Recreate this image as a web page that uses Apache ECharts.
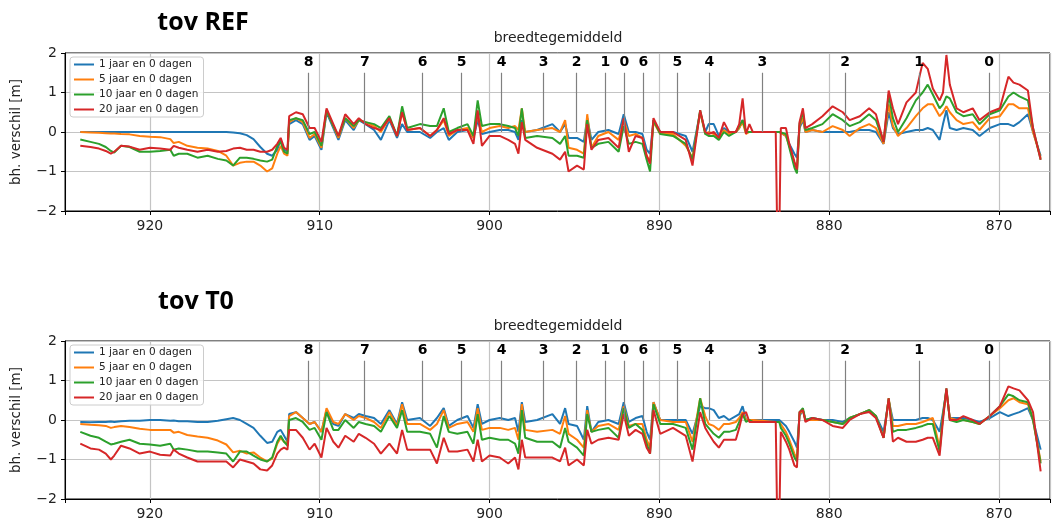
<!DOCTYPE html>
<html>
<head>
<meta charset="utf-8">
<title>breedtegemiddeld</title>
<script src="https://cdn.jsdelivr.net/npm/echarts@6/dist/echarts.min.js"></script>
<style>body{margin:0;background:#fff}</style>
</head>
<body>
<div id="main" style="width:1053px;height:525px"></div>
<script type="text/javascript">
// rivierkilometer (x), shared by every series
var km = [
    924.1, 923.5, 923.0, 922.6, 922.3, 922.1, 921.7, 921.2, 920.6, 920.0,
    919.4, 918.8, 918.6, 918.3, 917.8, 917.2, 916.6, 916.0, 915.5, 915.1,
    914.7, 914.3, 913.9, 913.5, 913.1, 912.8, 912.5, 912.3, 912.1, 911.9,
    911.8, 911.4, 911.0, 910.6, 910.3, 909.9, 909.6, 909.2, 908.9, 908.5,
    908.0, 907.7, 907.3, 906.8, 906.4, 905.9, 905.45, 905.15, 904.85, 904.1,
    903.5, 903.1, 902.7, 902.4, 901.9, 901.3, 900.95, 900.7, 900.45, 900.0,
    899.4, 898.9, 898.5, 898.3, 898.1, 897.9, 897.2, 896.3, 895.85, 895.55,
    895.35, 894.85, 894.45, 894.25, 894.0, 893.6, 893.0, 892.4, 892.1, 891.8,
    891.4, 891.0, 890.75, 890.55, 890.35, 889.95, 889.2, 888.45, 888.05, 887.6,
    887.3, 887.1, 886.8, 886.5, 886.2, 885.9, 885.5, 885.3, 885.1, 884.9,
    884.7, 884.5, 883.15, 883.06, 882.94, 882.85, 882.55, 882.35, 882.05, 881.9,
    881.75, 881.55, 881.4, 881.0, 880.4, 879.8, 879.2, 878.8, 878.2, 877.65,
    877.25, 876.8, 876.5, 876.25, 875.95, 875.45, 874.9, 874.5, 874.2, 873.9,
    873.5, 873.3, 873.1, 872.9, 872.5, 872.1, 871.55, 871.15, 870.55, 869.95,
    869.45, 869.15, 868.8, 868.3, 868.0, 867.55
];

var seriesNames = ['1 jaar en 0 dagen', '5 jaar en 0 dagen', '10 jaar en 0 dagen', '20 jaar en 0 dagen'];
var colors = ['#1f77b4', '#ff7f0e', '#2ca02c', '#d62728'];

// tov REF
var ref1 = [
    0, 0, 0, 0, 0, 0, 0, 0, 0, 0,
    0, 0, 0, 0, 0, 0, 0, 0, 0, -0.01,
    -0.03, -0.08, -0.18, -0.38, -0.55, -0.6, -0.45, -0.2, -0.45, -0.5,
    0.2, 0.3, 0.2, -0.2, -0.1, -0.45, 0.5, 0.1, -0.2, 0.3,
    0.05, 0.3, 0.2, 0.05, -0.2, 0.3, -0.15, 0.2, 0.0, 0.0,
    -0.15, 0.0, 0.1, -0.2, 0.0, 0.05, -0.15, 0.3, -0.05, 0.0,
    0.05, 0.05, 0.0, -0.2, 0.3, 0.0, 0.05, 0.2, 0.0, 0.2,
    -0.15, -0.15, -0.25, 0.35, -0.2, 0.0, 0.05, -0.05, 0.45, 0.0,
    0.0, -0.05, -0.45, -0.55, 0.3, 0.0, 0.0, -0.1, -0.5, 0.5,
    0.0, 0.2, 0.2, -0.1, 0.1, 0.0, 0.0, 0.1, 0.3, 0.0,
    0.0, 0.0, 0.0, 0.0, 0.0, 0.0, -0.1, -0.3, -0.55, -0.65,
    0.1, 0.3, 0.0, 0.05, 0.0, 0.0, 0.0, 0.0, 0.05, 0.05,
    0.0, -0.3, 0.5, 0.1, -0.05, 0.0, 0.05, 0.05, 0.1, 0.05,
    -0.2, 0.2, 0.55, 0.1, 0.05, 0.1, 0.05, -0.1, 0.1, 0.2,
    0.2, 0.15, 0.25, 0.45, 0.0, -0.6
];
var ref5 = [
    0.0, -0.01, -0.02, -0.03, -0.04, -0.04, -0.05, -0.06, -0.1, -0.12,
    -0.13, -0.18, -0.28, -0.25, -0.35, -0.4, -0.42, -0.48, -0.6, -0.85,
    -0.78, -0.75, -0.75, -0.85, -1.0, -0.92, -0.55, -0.35, -0.55, -0.6,
    0.25, 0.35, 0.25, -0.15, -0.05, -0.4, 0.55, 0.15, -0.15, 0.35,
    0.1, 0.3, 0.25, 0.15, 0.0, 0.35, -0.1, 0.5, 0.05, 0.1,
    -0.1, 0.05, 0.3, -0.1, 0.05, 0.1, -0.15, 0.45, 0.0, 0.1,
    0.15, 0.1, 0.15, 0.05, 0.6, 0.0, 0.05, 0.1, 0.0, 0.3,
    -0.4, -0.45, -0.55, 0.45, -0.4, -0.1, 0.0, -0.2, 0.3, -0.1,
    -0.05, -0.15, -0.6, -0.75, 0.25, -0.05, -0.05, -0.35, -0.65, 0.5,
    -0.05, 0.0, -0.05, -0.15, 0.05, -0.05, 0.0, 0.1, 0.25, -0.05,
    0.0, 0.0, 0.0, 0.0, 0.0, 0.0, -0.1, -0.35, -0.8, -1.0,
    0.15, 0.35, 0.0, 0.05, 0.0, 0.15, 0.05, -0.1, 0.1, 0.2,
    0.1, -0.3, 0.7, 0.15, -0.1, 0.1, 0.4, 0.6, 0.7, 0.7,
    0.4, 0.5, 0.65, 0.5, 0.3, 0.2, 0.25, 0.05, 0.35, 0.4,
    0.7, 0.7, 0.6, 0.6, 0.0, -0.65
];
var ref10 = [
    -0.19, -0.25, -0.3, -0.38, -0.48, -0.52, -0.35, -0.38, -0.5, -0.5,
    -0.48, -0.45, -0.6, -0.55, -0.55, -0.65, -0.6, -0.68, -0.72, -0.85,
    -0.65, -0.65, -0.68, -0.72, -0.75, -0.7, -0.35, -0.25, -0.5, -0.55,
    0.3, 0.35, 0.3, -0.05, 0.0, -0.35, 0.55, 0.15, -0.1, 0.35,
    0.15, 0.3, 0.25, 0.2, 0.1, 0.4, -0.1, 0.65, 0.1, 0.2,
    0.15, 0.15, 0.6, 0.0, 0.1, 0.2, -0.1, 0.8, 0.15, 0.2,
    0.2, 0.15, 0.1, -0.1, 0.6, -0.15, -0.1, -0.15, -0.3, -0.1,
    -0.6, -0.6, -0.65, 0.3, -0.4, -0.3, -0.25, -0.5, 0.15, -0.3,
    -0.25, -0.3, -0.7, -1.0, 0.3, -0.05, -0.1, -0.3, -0.7, 0.55,
    -0.05, -0.1, -0.1, -0.2, 0.0, -0.1, 0.0, 0.15, 0.3, 0.0,
    0.0, 0.0, 0.0, 0.0, 0.0, 0.05, -0.05, -0.4, -0.9, -1.05,
    0.2, 0.5, 0.05, 0.1, 0.2, 0.45, 0.3, 0.15, 0.25, 0.45,
    0.3, -0.25, 0.95, 0.35, 0.0, 0.35, 0.8, 1.0, 1.2, 0.95,
    0.6, 0.7, 0.9, 0.85, 0.5, 0.4, 0.45, 0.2, 0.45, 0.55,
    0.9, 1.0, 0.9, 0.8, 0.1, -0.7
];
var ref20 = [
    -0.35, -0.38, -0.42, -0.48, -0.55, -0.5, -0.35, -0.37, -0.45, -0.4,
    -0.42, -0.45, -0.35, -0.4, -0.45, -0.5, -0.45, -0.5, -0.48, -0.42,
    -0.4, -0.45, -0.45, -0.5, -0.5, -0.45, -0.3, -0.15, -0.4, -0.45,
    0.4, 0.5, 0.45, 0.1, 0.1, -0.25, 0.6, 0.2, -0.1, 0.45,
    0.2, 0.35, 0.2, 0.1, 0.05, 0.35, -0.1, 0.5, 0.05, 0.1,
    -0.1, 0.05, 0.35, -0.05, 0.05, 0.05, -0.3, 0.55, -0.35, -0.1,
    -0.1, -0.2, -0.3, -0.55, 0.25, -0.2, -0.4, -0.55, -0.7, -0.5,
    -1.0, -0.85, -0.95, 0.2, -0.45, -0.2, -0.15, -0.4, 0.35, -0.5,
    -0.1, -0.15, -0.6, -0.8, 0.35, 0.0, 0.0, -0.2, -0.85, 0.55,
    0.0, -0.05, 0.0, -0.15, 0.25, 0.0, 0.0, 0.2, 0.85, -0.05,
    0.2, 0.0, 0.0, -2.6, -2.6, 0.1, 0.1, -0.3, -0.75, -0.95,
    0.25, 0.6, 0.1, 0.2, 0.4, 0.65, 0.5, 0.3, 0.4, 0.6,
    0.45, -0.25, 1.05, 0.6, 0.2, 0.75, 1.0, 1.75, 1.6, 1.1,
    0.8, 1.0, 1.95, 1.2, 0.6, 0.5, 0.6, 0.3, 0.5, 0.6,
    1.4, 1.25, 1.2, 1.05, 0.1, -0.7
];

// tov T0
var t01 = [
    -0.05, -0.06, -0.05, -0.05, -0.04, -0.05, -0.03, -0.02, -0.02, 0.0,
    0.0, -0.02, -0.01, -0.03, -0.03, -0.05, -0.05, -0.02, 0.02, 0.05,
    0.0, -0.1, -0.2, -0.4, -0.58, -0.55, -0.3, -0.25, -0.4, -0.55,
    0.15, 0.2, 0.05, -0.1, -0.05, -0.3, 0.25, -0.1, -0.15, 0.15,
    0.05, 0.15, 0.1, 0.05, -0.1, 0.25, -0.1, 0.45, 0.0, 0.05,
    -0.15, 0.05, 0.3, -0.15, 0.0, 0.1, -0.2, 0.4, -0.1, 0.0,
    0.05, 0.0, 0.05, -0.3, 0.45, -0.05, 0.0, 0.15, -0.1, 0.3,
    -0.1, -0.15, -0.5, 0.35, -0.3, -0.05, 0.0, -0.1, 0.45, -0.05,
    0.05, 0.1, -0.3, -0.5, 0.45, 0.0, 0.0, 0.0, -0.35, 0.35,
    0.3, 0.3, 0.25, 0.05, 0.1, 0.0, 0.1, 0.15, 0.35, 0.0,
    0.0, 0.0, 0.0, 0.0, 0.0, -0.05, -0.15, -0.3, -0.55, -0.7,
    0.1, 0.25, 0.0, 0.05, 0.0, 0.0, -0.05, 0.05, 0.15, 0.25,
    0.1, -0.3, 0.5, 0.0, 0.0, 0.0, 0.0, 0.05, 0.05, 0.0,
    -0.3, 0.2, 0.75, 0.05, 0.05, 0.05, 0.0, -0.05, 0.05, 0.2,
    0.1, 0.15, 0.2, 0.3, 0.0, -0.75
];
var t05 = [
    -0.1, -0.12, -0.13, -0.15, -0.2, -0.18, -0.15, -0.18, -0.22, -0.25,
    -0.25, -0.25, -0.32, -0.3, -0.38, -0.42, -0.45, -0.52, -0.62, -0.82,
    -0.78, -0.85, -0.82, -0.95, -1.05, -0.98, -0.6, -0.45, -0.55, -0.6,
    0.1, 0.2, 0.05, -0.1, -0.05, -0.3, 0.3, -0.05, -0.1, 0.15,
    0.0, 0.1, 0.05, -0.05, -0.2, 0.2, -0.15, 0.4, -0.1, -0.1,
    -0.25, -0.1, 0.25, -0.2, -0.1, -0.05, -0.3, 0.3, -0.25, -0.2,
    -0.2, -0.25, -0.2, -0.5, 0.4, -0.25, -0.3, -0.25, -0.35, 0.1,
    -0.35, -0.5, -0.7, 0.25, -0.3, -0.15, -0.1, -0.25, 0.35, -0.15,
    -0.1, -0.1, -0.5, -0.7, 0.45, 0.0, -0.05, -0.05, -0.55, 0.55,
    0.1, -0.1, -0.15, -0.25, -0.1, -0.1, -0.05, 0.05, 0.2, 0.0,
    0.0, 0.0, -0.05, -0.05, -0.05, -0.1, -0.3, -0.5, -0.85, -1.0,
    0.15, 0.25, 0.0, 0.0, 0.0, -0.05, -0.1, 0.05, 0.15, 0.25,
    0.1, -0.45, 0.55, -0.15, -0.15, -0.1, -0.1, -0.05, 0.0, 0.05,
    -0.7, 0.1, 0.75, 0.05, 0.0, 0.0, -0.05, -0.1, 0.1, 0.3,
    0.5, 0.55, 0.45, 0.4, 0.0, -1.05
];
var t010 = [
    -0.3, -0.4, -0.45, -0.55, -0.62, -0.6, -0.55, -0.5, -0.6, -0.62,
    -0.65, -0.6, -0.75, -0.72, -0.75, -0.8, -0.8, -0.82, -0.85, -1.05,
    -0.8, -0.8, -0.9, -1.0, -1.05, -0.95, -0.55, -0.4, -0.55, -0.65,
    0.0, 0.05, -0.05, -0.25, -0.2, -0.5, 0.2, -0.25, -0.25, 0.0,
    -0.2, -0.05, -0.1, -0.15, -0.3, 0.1, -0.2, 0.25, -0.3, -0.3,
    -0.35, -0.7, 0.1, -0.3, -0.35, -0.3, -0.6, 0.15, -0.5, -0.45,
    -0.5, -0.5, -0.6, -0.85, 0.25, -0.45, -0.55, -0.55, -0.7, -0.2,
    -0.55, -0.7, -0.9, 0.15, -0.3, -0.25, -0.2, -0.45, 0.3, -0.2,
    -0.1, -0.25, -0.6, -0.85, 0.4, -0.1, -0.1, -0.2, -0.75, 0.55,
    -0.1, -0.2, -0.35, -0.45, -0.3, -0.3, -0.25, -0.05, 0.15, -0.05,
    0.0, -0.05, -0.05, -0.05, -0.05, -0.2, -0.4, -0.6, -0.95, -1.05,
    0.2, 0.3, 0.0, 0.05, 0.0, -0.05, -0.1, 0.05, 0.15, 0.25,
    0.1, -0.45, 0.55, -0.3, -0.25, -0.25, -0.2, -0.15, -0.1, -0.1,
    -0.8, 0.1, 0.8, 0.0, -0.05, 0.0, -0.05, -0.1, 0.1, 0.35,
    0.65, 0.6, 0.5, 0.45, 0.0, -1.1
];
var t020 = [
    -0.6, -0.72, -0.75, -0.85, -1.0, -0.9, -0.65, -0.72, -0.85, -0.8,
    -0.88, -0.9, -0.75, -0.85, -0.95, -1.05, -1.05, -1.05, -1.05, -1.2,
    -1.0, -1.05, -1.1, -1.25, -1.28, -1.15, -0.85, -0.75, -0.7, -0.75,
    -0.25, -0.25, -0.45, -0.75, -0.6, -0.95, -0.2, -0.55, -0.7, -0.4,
    -0.55, -0.35, -0.45, -0.6, -0.85, -0.6, -0.85, -0.25, -0.75, -0.75,
    -0.75, -1.1, -0.45, -0.8, -0.8, -0.75, -1.05, -0.5, -1.05, -0.9,
    -0.95, -1.1, -0.95, -1.25, -0.5, -0.95, -0.95, -0.95, -1.05, -0.7,
    -1.15, -1.0, -1.15, -0.25, -0.6, -0.5, -0.45, -0.5, 0.15, -0.4,
    -0.25, -0.35, -0.7, -0.85, 0.25, -0.35, -0.2, -0.4, -1.05, 0.2,
    -0.2, -0.35, -0.55, -0.7, -0.5, -0.5, -0.5, -0.2, 0.15, 0.2,
    -0.05, -0.05, -0.05, -2.6, -2.6, -0.3, -0.55, -0.75, -1.15, -1.2,
    0.2, 0.25, -0.05, 0.05, 0.0, -0.15, -0.2, 0.0, 0.15, 0.2,
    0.05, -0.45, 0.55, -0.55, -0.45, -0.55, -0.55, -0.5, -0.45, -0.45,
    -0.9, 0.0, 0.8, 0.0, 0.0, 0.1, 0.0, -0.1, 0.1, 0.35,
    0.85, 0.8, 0.75, 0.5, 0.2, -1.3
];

// markeringen boven de grafiek
var markKm = [910.65, 907.35, 903.94, 901.65, 899.29, 896.82, 894.88, 893.18, 892.06, 890.94, 888.94, 887.06, 883.94, 879.06, 874.71, 870.59];
var markLabels = ['8', '7', '6', '5', '4', '3', '2', '1', '0', '6', '5', '4', '3', '2', '1', '0'];

var panels = [
    { title: 'tov REF', sets: [ref1, ref5, ref10, ref20] },
    { title: 'tov T0', sets: [t01, t05, t010, t020] }
];

var font = 'DejaVu Sans';
var gridTops = [53, 341];
var titlePos = [[203, 23], [196, 302]];
var myChart = echarts.init(document.getElementById('main'));

function pairs(vals) {
    return km.map(function (x, i) { return [x, vals[i]]; });
}

var grids = [], xAxes = [], yAxes = [], legends = [], series = [], texts = [];
panels.forEach(function (p, g) {
    grids.push({ left: 65, top: gridTops[g], width: 986, height: 158, show: true, borderColor: '#000', borderWidth: 1 });
    xAxes.push({
        gridIndex: g, type: 'value', inverse: true, min: 867, max: 925,
        axisLine: { show: true, onZero: false, lineStyle: { color: '#000' } },
        axisTick: { show: true, length: 4, lineStyle: { color: '#000' } },
        axisLabel: {
            color: '#222', fontSize: 14, fontFamily: font, margin: 8,
            formatter: function (v) { return v % 10 === 0 ? String(v) : ''; }
        },
        splitLine: { show: true, lineStyle: { color: '#c4c4c4', width: 1.2 } }
    });
    yAxes.push({
        gridIndex: g, type: 'value', min: -2, max: 2, interval: 1,
        name: 'bh. verschil [m]', nameLocation: 'middle', nameGap: 42,
        nameTextStyle: { fontSize: 13.5, color: '#222', fontFamily: font },
        axisLine: { show: true, lineStyle: { color: '#000' } },
        axisTick: { show: true, length: 4, lineStyle: { color: '#000' } },
        axisLabel: {
            color: '#222', fontSize: 14, fontFamily: font, margin: 8,
            formatter: function (v) { return String(v).replace('-', '\u2212'); }
        },
        splitLine: { show: true, lineStyle: { color: '#c4c4c4', width: 1.2 } }
    });
    legends.push({
        data: seriesNames, orient: 'vertical', left: 70, top: gridTops[g] + 4,
        icon: 'rect', itemWidth: 20, itemHeight: 2, itemGap: 4,
        padding: [2, 5, 2, 4], backgroundColor: 'rgba(255,255,255,0.85)',
        borderColor: '#cccccc', borderWidth: 1, borderRadius: 3,
        textStyle: { fontSize: 10.5, lineHeight: 11, fontFamily: font, color: '#222' }
    });
    series.push({
        type: 'line', name: 'markers', xAxisIndex: g, yAxisIndex: g, data: [],
        silent: true,
        markLine: {
            silent: true, symbol: ['none', 'none'], animation: false,
            lineStyle: { color: '#808080', width: 1.2, type: 'solid' },
            label: { show: true, position: 'start', formatter: '{b}', fontSize: 14, fontWeight: 'bold', fontFamily: font, color: '#000', distance: 3 },
            data: markKm.map(function (x, i) {
                return [{ name: markLabels[i], coord: [x, 1.5] }, { coord: [x, 0] }];
            })
        }
    });
    p.sets.forEach(function (vals, s) {
        series.push({
            type: 'line', name: seriesNames[s], xAxisIndex: g, yAxisIndex: g,
            data: pairs(vals), showSymbol: false, symbol: 'none',
            lineStyle: { color: colors[s], width: 2 }, itemStyle: { color: colors[s] },
            clip: true
        });
    });
    texts.push({
        type: 'text', x: titlePos[g][0], y: titlePos[g][1],
        style: { text: p.title, font: 'bold 25px "Open Sans", sans-serif', fill: '#000', textAlign: 'center', textVerticalAlign: 'middle' }
    });
    texts.push({
        type: 'text', x: 558, y: gridTops[g] - 15,
        style: { text: 'breedtegemiddeld', font: '14px "DejaVu Sans"', fill: '#222', textAlign: 'center', textVerticalAlign: 'middle' }
    });
});

var option = {
    animation: false,
    grid: grids,
    xAxis: xAxes,
    yAxis: yAxes,
    legend: legends,
    graphic: texts,
    series: series
};
myChart.setOption(option);
</script>
</body>
</html>
